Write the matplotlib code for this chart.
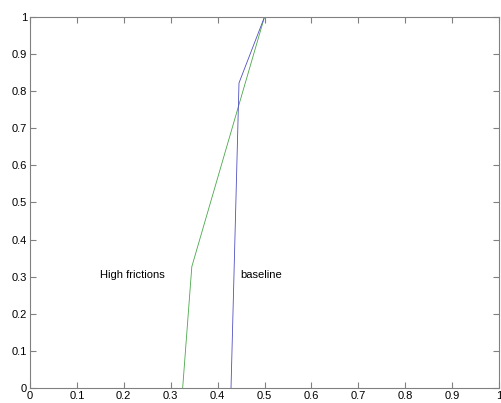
import numpy as np
import matplotlib.pyplot as plt

# data
base_x = [0.4286, 0.4456, 0.5]
base_y = [0.0, 0.822, 1.0]
high_x = [0.3255, 0.345, 0.5]
high_y = [0.0, 0.327, 1.0]

ticks = np.round(np.arange(0, 1.01, 0.1), 1)
tick_labels = ["0", "0.1", "0.2", "0.3", "0.4", "0.5", "0.6", "0.7", "0.8", "0.9", "1"]

plt.rcParams['font.family'] = ['Liberation Sans', 'DejaVu Sans']

fig = plt.figure(figsize=(5.01, 4.03), dpi=100)
ax = fig.add_axes([0.0599, 0.0372, 0.9361, 0.9208])

ax.plot(high_x, high_y, color='#4aa84a', linewidth=0.6)
ax.plot(base_x, base_y, color='#5050c0', linewidth=0.6)

ax.text(0.149, 0.305, "High frictions", fontsize=8, va='center')
ax.text(0.448, 0.305, "baseline", fontsize=8, va='center')

ax.set_xlim(0, 1)
ax.set_ylim(0, 1)
ax.set_xticks(ticks)
ax.set_yticks(ticks)
ax.set_xticklabels(tick_labels)
ax.set_yticklabels(tick_labels)

for s in ax.spines.values():
    s.set_color('#808080')
    s.set_linewidth(0.8)
ax.tick_params(direction='in', length=4, width=0.8, color='#808080',
               labelsize=8, top=True, right=True, pad=2)

fig.savefig("out.png", dpi=100)
